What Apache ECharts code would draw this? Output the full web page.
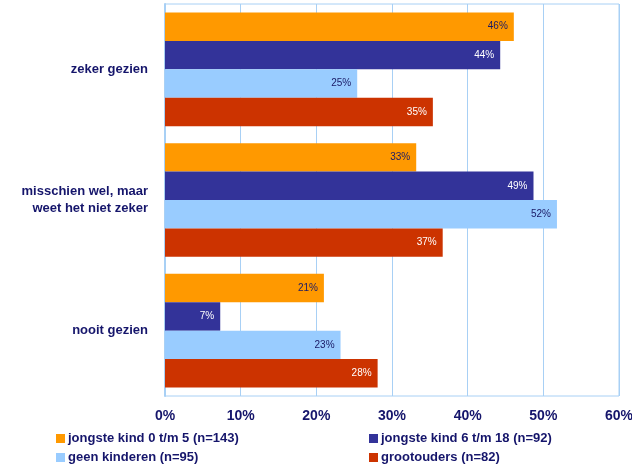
<!DOCTYPE html>
<html><head><meta charset="utf-8">
<script src="https://cdn.jsdelivr.net/npm/echarts@6/dist/echarts.min.js"></script>
<style>html,body{margin:0;padding:0;background:#fff}#c{width:632px;height:464px}</style>
</head><body><div id="c"></div>
<script>
const categories = ['zeker gezien', 'misschien wel, maar\nweet het niet zeker', 'nooit gezien'];
const seriesNames = ['jongste kind 0 t/m 5 (n=143)', 'jongste kind 6 t/m 18 (n=92)', 'geen kinderen (n=95)', 'grootouders (n=82)'];
const jongste0_5 = [46.1, 33.2, 21.0];
const jongste6_18 = [44.3, 48.7, 7.3];
const geenKinderen = [25.4, 51.8, 23.2];
const grootouders = [35.4, 36.7, 28.1];
const xTicks = [0, 10, 20, 30, 40, 50, 60];

const colors = ['#FF9900', '#333399', '#99CCFF', '#CC3300'];
const labelColors = ['#1a1a66', '#ffffff', '#1a1a66', '#ffffff'];
const navy = '#15156b';
const values = [jongste0_5, jongste6_18, geenKinderen, grootouders];
const legendPos = [[56, 432], [369, 432], [56, 451], [369, 451]];

const chart = echarts.init(document.getElementById('c'));
chart.setOption({
  animation: false,
  textStyle: { fontFamily: 'Liberation Sans, Arial, sans-serif' },
  grid: { left: 165, right: 13, top: 4, bottom: 68, show: true, borderColor: '#a8d0f5', borderWidth: 1,
    containLabel: false, outerBoundsMode: 'none' },
  legend: seriesNames.map((n, i) => ({
    left: legendPos[i][0], top: legendPos[i][1], padding: 0,
    itemWidth: 9, itemHeight: 9, icon: 'rect', data: [n],
    textStyle: { color: navy, fontWeight: 'bold', fontSize: 13, padding: [0, 0, 0, -2] }
  })),
  xAxis: {
    type: 'value', min: xTicks[0], max: xTicks[xTicks.length - 1], interval: 10,
    axisLine: { show: false }, axisTick: { show: false },
    splitLine: { show: true, lineStyle: { color: '#a8d0f5', width: 1 } },
    axisLabel: { formatter: v => v + '%', color: navy, fontWeight: 'bold', fontSize: 14, margin: 13 }
  },
  yAxis: {
    type: 'category', data: categories, inverse: true,
    axisLine: { show: true, lineStyle: { color: '#a8d0f5', width: 2 } },
    axisTick: { show: false },
    axisLabel: { color: navy, fontWeight: 'bold', fontSize: 13, align: 'right', margin: 17, lineHeight: 17 }
  },
  series: values.map((d, i) => ({
    name: seriesNames[i], type: 'bar', data: d, barCategoryGap: '13%', barGap: '0%',
    itemStyle: { color: colors[i] },
    label: { show: true, position: 'insideRight', distance: 6, fontSize: 10,
      color: labelColors[i], formatter: p => Math.round(p.value) + '%' }
  }))
});
</script></body></html>
